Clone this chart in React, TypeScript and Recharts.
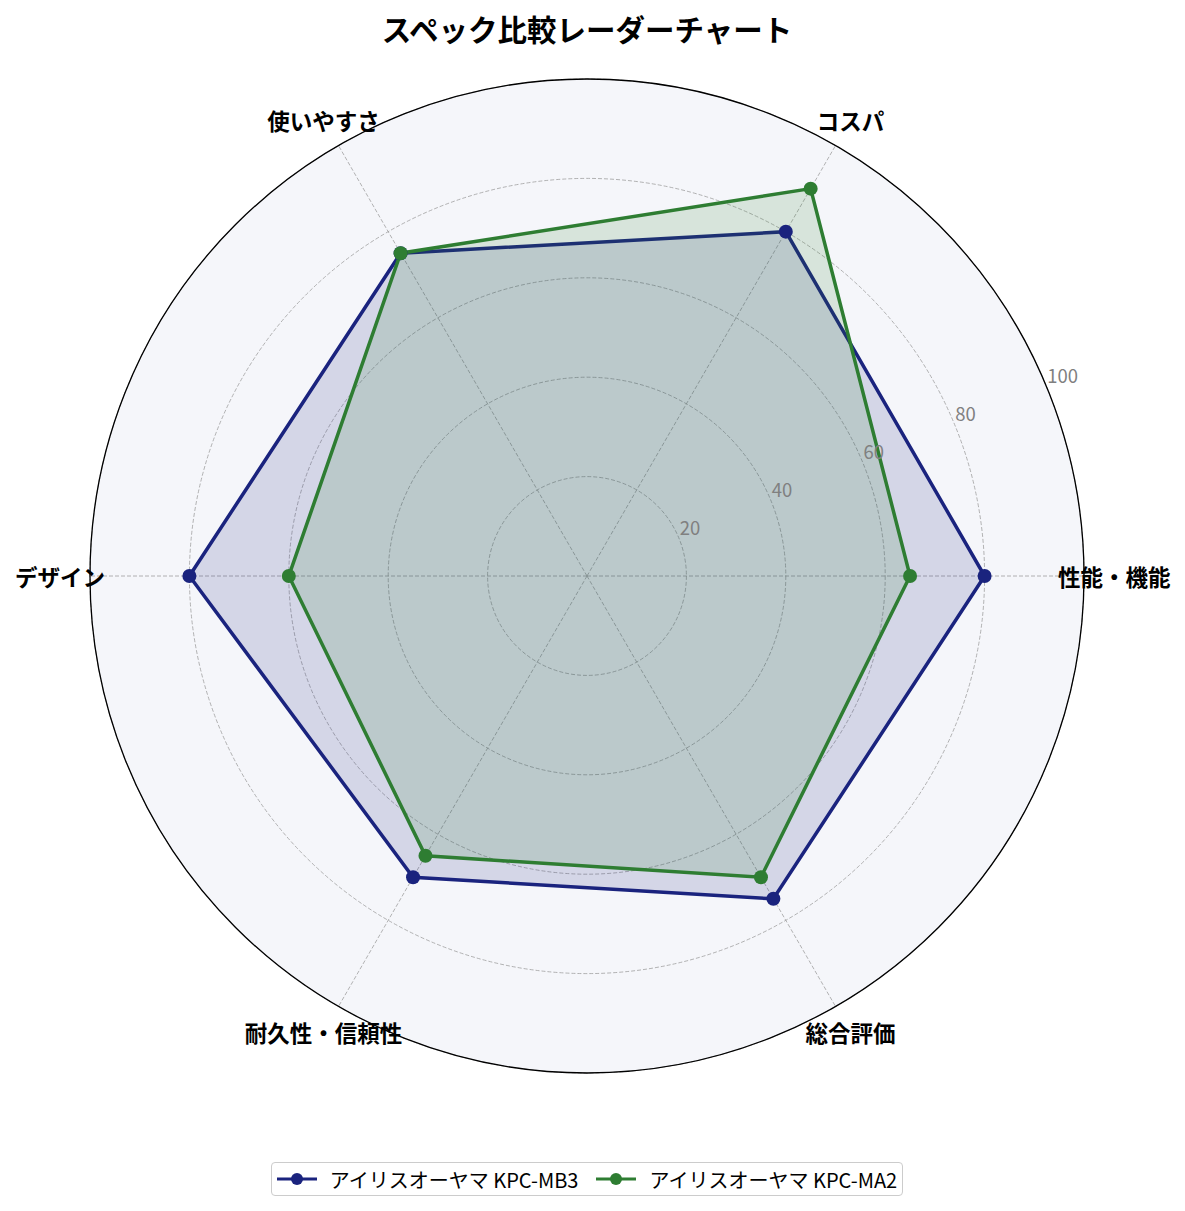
import React from 'react';
import { RadarChart, Radar, PolarGrid, PolarAngleAxis, PolarRadiusAxis, Legend } from 'recharts';

// categories listed counter-clockwise from the right-hand (3 o'clock) axis
const categories = ['性能・機能', 'コスパ', '使いやすさ', 'デザイン', '耐久性・信頼性', '総合評価'];
const mb3Values = [80, 80, 75, 80, 70, 75];
const ma2Values = [65, 90, 75, 60, 65, 70];
const radiusTicks = [0, 20, 40, 60, 80, 100];
const seriesNames = ['アイリスオーヤマ KPC-MB3', 'アイリスオーヤマ KPC-MA2'];
const seriesKeys = ['mb3', 'ma2'];
const seriesColors = ['#1a237e', '#2e7d32'];
const TITLE = 'スペック比較レーダーチャート';

// Recharts walks the categories clockwise; keep the first one on the right and reverse the rest
const drawOrder = [0, 5, 4, 3, 2, 1];
const data = drawOrder.map((i) => ({ category: categories[i], mb3: mb3Values[i], ma2: ma2Values[i] }));

const FONT = '"Noto Sans CJK JP", "Noto Sans", sans-serif';
const W = 1169;
const H = 1195;
const CX = 579;
const CY = 568;
const R = 497;

const AngleTick = (props: any) => {
  const { payload } = props;
  const cx = typeof props.cx === 'number' ? props.cx : CX;
  const cy = typeof props.cy === 'number' ? props.cy : CY;
  const ang = (payload.coordinate * Math.PI) / 180;
  const c = Math.cos(ang);
  const s = Math.sin(ang);
  let tx: number;
  let ty: number;
  let anchor: 'start' | 'middle' | 'end';
  if (c > 0.9) {
    tx = cx + R - 26;
    ty = cy;
    anchor = 'start';
  } else if (c < -0.9) {
    tx = cx - R + 15;
    ty = cy;
    anchor = 'end';
  } else {
    tx = cx + (R + 30) * c;
    ty = cy - (R + 30) * s;
    anchor = 'middle';
  }
  return (
    <text x={tx} y={ty} textAnchor={anchor} dominantBaseline="central" fontSize={22.5} fontWeight={700} fill="#000" fontFamily={FONT}>
      {payload.value}
    </text>
  );
};

const RadiusTick = (props: any) => {
  const { x, y, payload } = props;
  if (payload.value === 0) return null;
  return (
    <text x={x + 1} y={y - 3} textAnchor="start" fontSize={18.5} fill="#808080" fontFamily={FONT}>
      {payload.value}
    </text>
  );
};

const LegendContent = () => (
  <div style={{ display: 'flex', justifyContent: 'center' }}>
    <div
      style={{
        display: 'flex',
        alignItems: 'center',
        border: '1.5px solid #cccccc',
        borderRadius: 4,
        height: 32,
        padding: '0 5px 0 5px',
        background: '#fff',
        fontFamily: FONT,
        fontSize: 20,
        color: '#000',
      }}
    >
      {seriesNames.map((n, i) => (
        <div key={n} style={{ display: 'flex', alignItems: 'center', marginLeft: i === 0 ? 0 : 18 }}>
          <svg width={40} height={14} style={{ marginRight: 13 }}>
            <line x1={0} y1={7} x2={40} y2={7} stroke={seriesColors[i]} strokeWidth={3.2} />
            <circle cx={20} cy={7} r={6} fill={seriesColors[i]} />
          </svg>
          <span>{n}</span>
        </div>
      ))}
    </div>
  </div>
);

export default function App() {
  return (
    <div style={{ position: 'relative', width: W, height: H, background: '#fff', fontFamily: FONT }}>
      <div
        style={{
          position: 'absolute',
          top: -1,
          left: 0,
          width: 2 * CX,
          textAlign: 'center',
          fontSize: 29.5,
          fontWeight: 700,
          fontFamily: FONT,
          color: '#000',
        }}
      >
        {TITLE}
      </div>
      <svg width={W} height={H} style={{ position: 'absolute', top: 0, left: 0 }}>
        <circle cx={CX} cy={CY} r={R} fill="#f5f6fa" stroke="none" />
      </svg>
      <div style={{ position: 'absolute', top: 0, left: 0 }}>
        <RadarChart width={W} height={H} data={data} cx={CX} cy={CY} outerRadius={R} startAngle={0} endAngle={-360} margin={{ top: 0, right: 0, bottom: 0, left: 0 }}>
          <PolarGrid gridType="circle" stroke="#a0a0a0" strokeDasharray="4 2" strokeWidth={0.8} />
          <PolarAngleAxis dataKey="category" tick={<AngleTick />} tickLine={false} axisLine={false} />
          <PolarRadiusAxis angle={22.5} domain={[0, 100]} ticks={radiusTicks} tick={<RadiusTick />} axisLine={false} tickLine={false} />
          {seriesKeys.map((k, i) => (
            <Radar
              key={k}
              name={seriesNames[i]}
              dataKey={k}
              stroke={seriesColors[i]}
              strokeWidth={3.5}
              fill={seriesColors[i]}
              fillOpacity={0.15}
              dot={{ r: 7, fill: seriesColors[i], fillOpacity: 1, stroke: seriesColors[i], strokeWidth: 0 }}
              isAnimationActive={false}
            />
          ))}
          <Legend content={<LegendContent />} wrapperStyle={{ position: 'absolute', top: 1154, left: 0, width: 2 * CX }} />
        </RadarChart>
      </div>
      <svg width={W} height={H} style={{ position: 'absolute', top: 0, left: 0, pointerEvents: 'none' }}>
        <circle cx={CX} cy={CY} r={R} fill="none" stroke="#000" strokeWidth={1.3} />
      </svg>
    </div>
  );
}
